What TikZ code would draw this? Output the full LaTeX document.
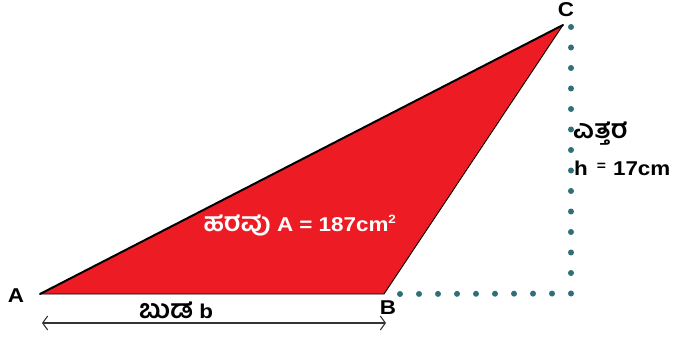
\documentclass[tikz,border=0pt]{standalone}
\usepackage{fontspec}
\setmainfont{Liberation Sans}[FakeStretch=1.12]
\newfontfamily\kn[Script=Kannada,FakeStretch=1.05,Scale=1.3]{Hind Mysuru}
\usetikzlibrary{arrows.meta}
\definecolor{trired}{HTML}{ED1C24}
\definecolor{dotteal}{HTML}{2F6F78}
\definecolor{arrgrey}{HTML}{333333}
\tikzset{
  vlabel/.style={font=\fontsize{20}{20}\selectfont\bfseries, text=black, inner sep=0pt},
  lbl/.style={font=\fontsize{20}{22}\selectfont\bfseries, inner sep=0pt},
  dots/.style={dotteal, line width=6pt, line cap=round},
}
\begin{document}
\begin{tikzpicture}[x=1pt,y=-1pt]
\useasboundingbox (0,0) rectangle (684,347);
\coordinate (A) at (40,294);
\coordinate (B) at (384,294);
\coordinate (C) at (563,25);
\coordinate (Ctop) at (571,27);
\coordinate (Corner) at (571,293.5);
\coordinate (Bdot) at (400,294);
\coordinate (L) at (42,323);
\coordinate (R) at (386,323);
% triangle
\fill[trired] (A) -- (B) -- (C) -- cycle;
\draw[black, line width=0.9pt, line join=round] (A) -- (B) -- (C);
\draw[black, line width=2pt, line cap=round] (A) -- (C);
% dotted height and extension
\draw[dots, dash pattern=on 0pt off 20.5pt] (Ctop) -- (Corner);
\draw[dots, dash pattern=on 0pt off 19pt] (Bdot) -- (Corner);
% base arrow
\draw[arrgrey, line width=1.1pt, {Straight Barb[length=5pt,width=14pt]}-{Straight Barb[length=5pt,width=14pt]}] (L) -- (R);
% vertex labels
\node[vlabel] (la) at (16,296) {A};
\node[vlabel] (lb) at (388,308) {B};
\node[vlabel] (lc) at (566,10) {C};
% texts
\node[lbl, text=white] (area) at (300,225) {{\kn\bfseries ಹರವು} A = 187cm\textsuperscript{\fontsize{12}{12}\selectfont 2}};
\node[lbl, anchor=west] (hk) at (573,134) {\kn\bfseries ಎತ್ತರ};
\node[lbl, anchor=west] (hv) at (574,168) {h\hspace{9pt}\raisebox{5pt}{\fontsize{14}{14}\selectfont =}\hspace{7pt}17cm};
\node[lbl] (base) at (176,310) {{\kn\bfseries ಬುಡ} b};
\end{tikzpicture}
\end{document}
